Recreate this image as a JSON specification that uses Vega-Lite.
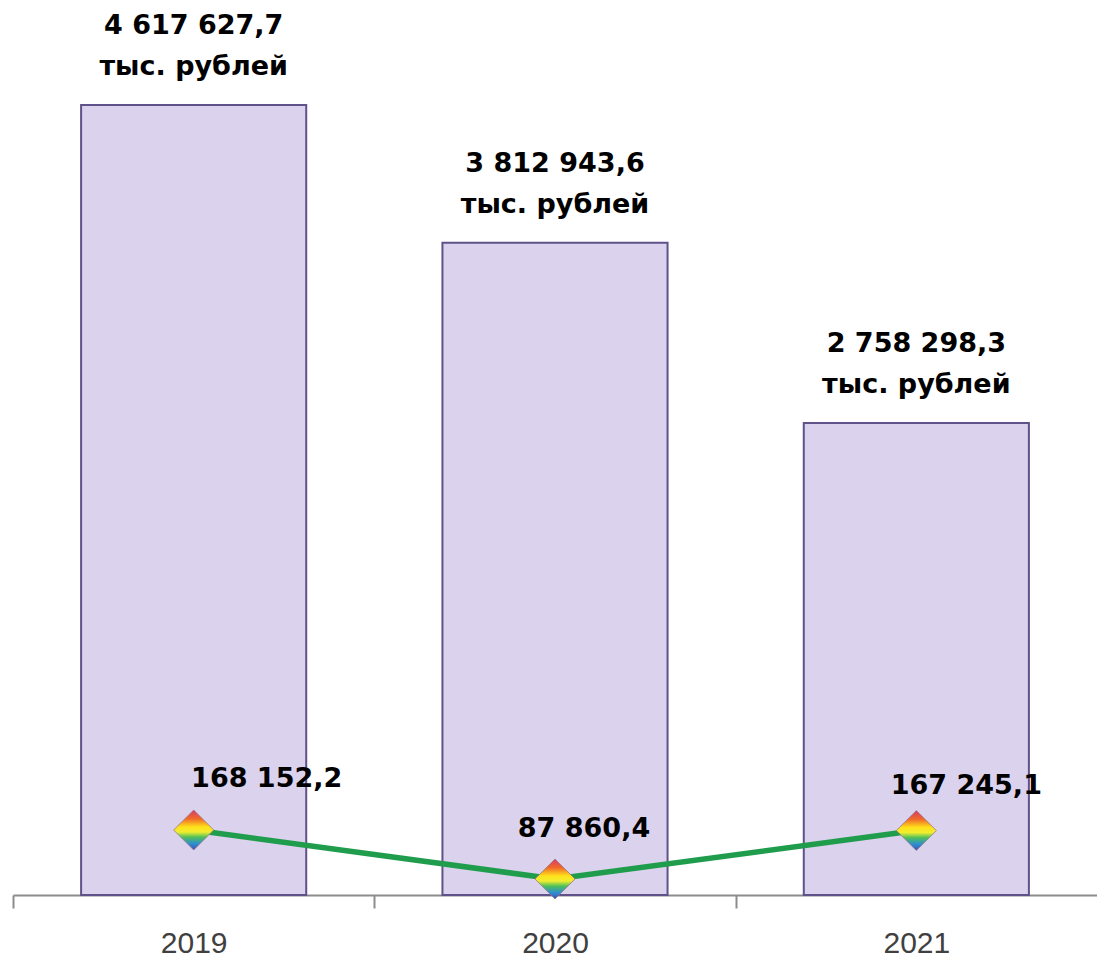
{
  "$schema": "https://vega.github.io/schema/vega-lite/v6.json",
  "width": 1084,
  "height": 895,
  "padding": {"left": 13, "top": 0, "right": 0, "bottom": 62},
  "autosize": {"type": "none"},
  "background": "white",
  "data": {
    "values": [
      {"year": "2019", "total": 4617627.7, "value": 168152.2},
      {"year": "2020", "total": 3812943.6, "value": 87860.4},
      {"year": "2021", "total": 2758298.3, "value": 167245.1}
    ]
  },
  "encoding": {
    "x": {
      "field": "year",
      "type": "ordinal",
      "title": null,
      "scale": {"paddingInner": 0.377, "paddingOuter": 0.1885},
      "axis": {
        "labelAngle": 0,
        "labelFont": "Liberation Sans",
        "labelFontSize": 30,
        "labelColor": "#404040",
        "labelBaseline": "top",
        "labelPadding": 20,
        "domain": true,
        "ticks": true,
        "domainColor": "#8c8c8c",
        "domainWidth": 2,
        "tickColor": "#8c8c8c",
        "tickWidth": 2,
        "tickSize": 13,
        "bandPosition": 0,
        "tickOffset": -68,
        "labelOffset": 68
      }
    }
  },
  "layer": [
    {
      "layer": [
        {
          "mark": {"type": "bar", "fill": "#dbd2ed", "stroke": "#5f5189", "strokeWidth": 2},
          "encoding": {}
        },
        {
          "mark": {"type": "text", "font": "DejaVu Sans", "fontWeight": "bold", "fontSize": 27, "color": "black", "baseline": "alphabetic", "dy": -71},
          "encoding": {"text": {"field": "total", "type": "quantitative", "format": ",.1f"}}
        },
        {
          "mark": {"type": "text", "font": "DejaVu Sans", "fontWeight": "bold", "fontSize": 27, "color": "black", "baseline": "alphabetic", "dy": -30},
          "encoding": {"text": {"value": "тыс. рублей"}}
        }
      ],
      "encoding": {
        "y": {
          "field": "total",
          "type": "quantitative",
          "scale": {"domain": [0, 5231374], "nice": false, "zero": true},
          "axis": null
        }
      }
    },
    {
      "layer": [
        {
          "mark": {"type": "line", "stroke": "#1f9d4c", "strokeWidth": 5.5},
          "encoding": {}
        },
        {
          "mark": {
            "type": "point",
            "shape": "diamond",
            "size": 1600,
            "filled": true,
            "opacity": 1,
            "stroke": "#9a7a80",
            "strokeWidth": 0.8,
            "fill": {
              "gradient": "linear",
              "x1": 0, "y1": 0, "x2": 0, "y2": 1,
              "stops": [
                {"offset": 0, "color": "#d83a6a"},
                {"offset": 0.22, "color": "#f06a2a"},
                {"offset": 0.42, "color": "#ffe01a"},
                {"offset": 0.55, "color": "#f0ee30"},
                {"offset": 0.68, "color": "#4cbf5a"},
                {"offset": 0.84, "color": "#2f8fd0"},
                {"offset": 1, "color": "#3a4fb8"}
              ]
            }
          },
          "encoding": {}
        },
        {
          "transform": [{"filter": "datum.year == '2019'"}],
          "mark": {"type": "text", "font": "DejaVu Sans", "fontWeight": "bold", "fontSize": 27, "color": "black", "baseline": "alphabetic", "dx": 73, "dy": -43},
          "encoding": {"text": {"field": "value", "type": "quantitative", "format": ",.1f"}}
        },
        {
          "transform": [{"filter": "datum.year == '2020'"}],
          "mark": {"type": "text", "font": "DejaVu Sans", "fontWeight": "bold", "fontSize": 27, "color": "black", "baseline": "alphabetic", "dx": 29, "dy": -42},
          "encoding": {"text": {"field": "value", "type": "quantitative", "format": ",.1f"}}
        },
        {
          "transform": [{"filter": "datum.year == '2021'"}],
          "mark": {"type": "text", "font": "DejaVu Sans", "fontWeight": "bold", "fontSize": 27, "color": "black", "baseline": "alphabetic", "dx": 50, "dy": -37},
          "encoding": {"text": {"field": "value", "type": "quantitative", "format": ",.1f"}}
        }
      ],
      "encoding": {
        "y": {
          "field": "value",
          "type": "quantitative",
          "scale": {"domain": [61642, 1528209], "nice": false, "zero": false},
          "axis": null
        }
      }
    }
  ],
  "resolve": {"scale": {"y": "independent"}},
  "config": {
    "view": {"stroke": null},
    "locale": {
      "number": {"decimal": ",", "thousands": " ", "grouping": [3], "currency": ["", ""]}
    }
  }
}
